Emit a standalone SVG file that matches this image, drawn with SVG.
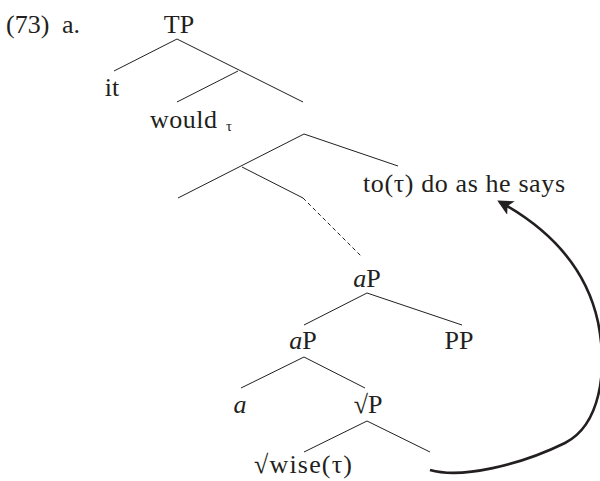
<svg xmlns="http://www.w3.org/2000/svg" width="600" height="481" viewBox="0 0 600 481">
<style>
text{font-family:"Liberation Serif","Times New Roman",serif;font-size:26px;fill:#231f20}
.c{text-anchor:middle}
.it{font-style:italic}
.sub{font-size:15px}
.edge{stroke:#231f20;stroke-width:1;fill:none}
.dash{stroke-dasharray:4,3}
.move{stroke:#231f20;stroke-width:2.6;fill:none}
</style>
<defs>
<marker id="ah" viewBox="0 0 10 10" refX="8" refY="5" markerWidth="6" markerHeight="6" orient="auto" markerUnits="strokeWidth">
<path d="M0,0 L10,5 L0,10 L2.5,5 Z" fill="#231f20"/>
</marker>
</defs>
<g id="label"><text x="6" y="33">(73)</text><text x="62" y="33">a.</text></g>
<g id="TP"><text class="c" x="179" y="33">TP</text></g>
<g id="it"><text class="c" x="112" y="96">it</text></g>
<g id="would"><text x="150" y="128" textLength="67" lengthAdjust="spacing">would</text><text class="sub" x="226" y="131">τ</text></g>
<g id="to"><text x="363" y="192" textLength="202" lengthAdjust="spacing">to(τ) do as he says</text></g>
<g id="aP1"><text class="c" x="367" y="287"><tspan class="it">a</tspan>P</text></g>
<g id="aP2"><text class="c" x="303" y="349"><tspan class="it">a</tspan>P</text></g>
<g id="PP"><text class="c" x="459" y="349">PP</text></g>
<g id="a"><text class="it c" x="240" y="413">a</text></g>
<g id="rootP"><text class="c" x="368" y="413">√P</text></g>
<g id="wise"><text x="254" y="473" textLength="98" lengthAdjust="spacing">√wise(τ)</text></g>
<g id="connectors">
<path class="edge" d="M114,71 L177,39 L303,102 M238,71 L177,102"/>
<path class="edge" d="M178,198 L304,134 L398,166 M242,167 L303,198"/>
<path class="edge dash" d="M303,198 L362,257"/>
<path class="edge" d="M304,325 L367,293 L462,325"/>
<path class="edge" d="M241,388 L304,357 L365,388"/>
<path class="edge" d="M304,452 L367,421 L430,452"/>
<path class="move" marker-end="url(#ah)" d="M430,470 C462,479 520,465 565,443 C600,425 608,372 598,322 C588,276 560,235 500,202"/>
</g>
</svg>
